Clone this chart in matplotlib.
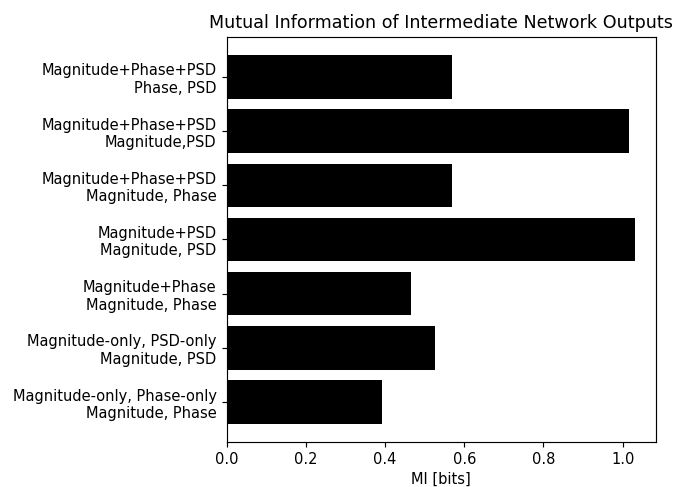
import matplotlib
matplotlib.use("Agg")
import matplotlib.pyplot as plt

plt.rcParams["font.family"] = ["DejaVu Sans"]

categories = [
    "Magnitude+Phase+PSD\nPhase, PSD",
    "Magnitude+Phase+PSD\nMagnitude,PSD",
    "Magnitude+Phase+PSD\nMagnitude, Phase",
    "Magnitude+PSD\nMagnitude, PSD",
    "Magnitude+Phase\nMagnitude, Phase",
    "Magnitude-only, PSD-only\nMagnitude, PSD",
    "Magnitude-only, Phase-only\nMagnitude, Phase",
]
mi_values = [0.569, 1.017, 0.569, 1.032, 0.466, 0.525, 0.392]

dpi = 105
fig = plt.figure(figsize=(674 / dpi, 487 / dpi), dpi=dpi)
ax = fig.add_axes([0.3364, 0.092, 0.9729 - 0.3364, 0.9246 - 0.092])

cats_bottom_up = categories[::-1]
vals_bottom_up = mi_values[::-1]
ax.barh(range(len(cats_bottom_up)), vals_bottom_up, color="black")
ax.set_yticks(range(len(cats_bottom_up)))
ax.set_yticklabels(cats_bottom_up)
ax.set_xlabel("MI [bits]", labelpad=3)
ax.set_title("Mutual Information of Intermediate Network Outputs")

fig.savefig("out.png", dpi=dpi)
